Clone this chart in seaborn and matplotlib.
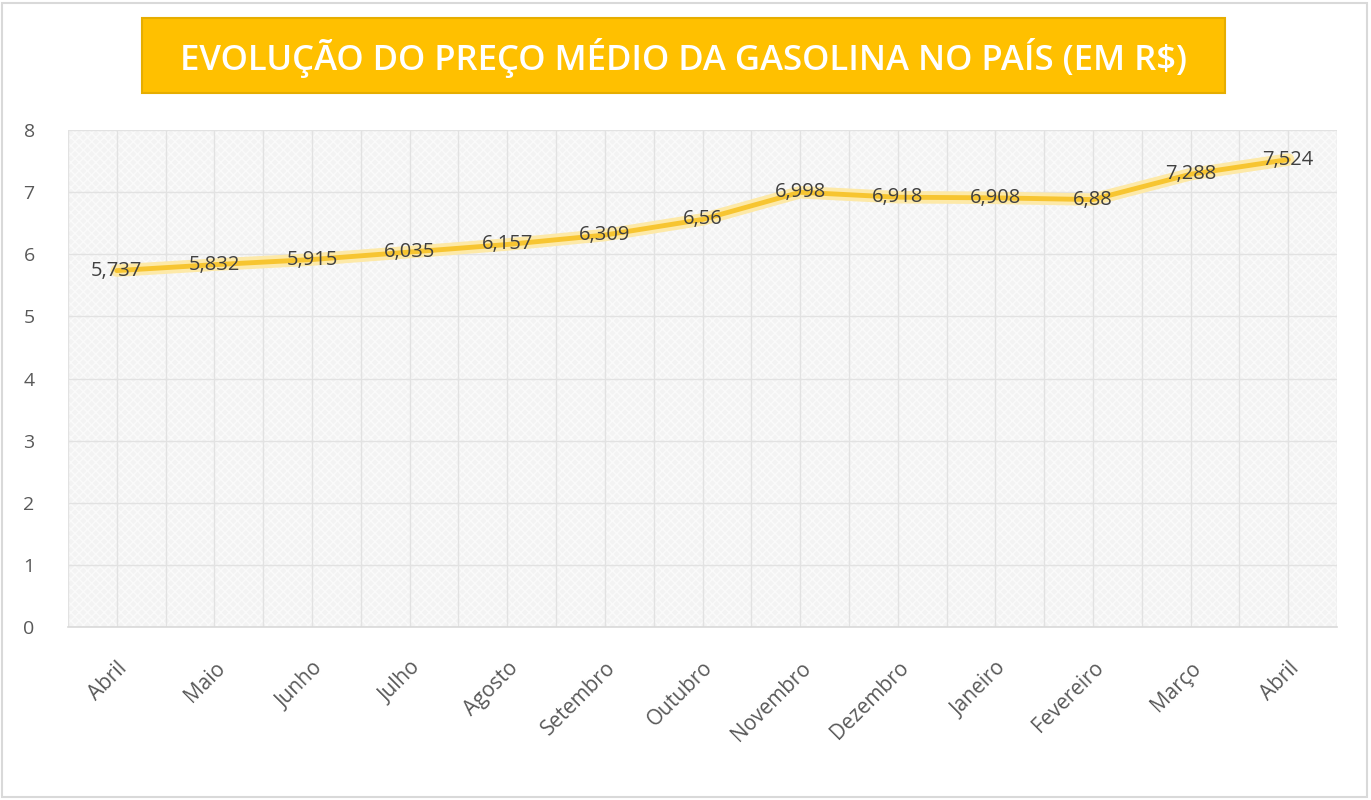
import matplotlib
matplotlib.use("Agg")
import matplotlib.pyplot as plt
from matplotlib.patches import Rectangle
import seaborn as sns
import pandas as pd

months = ["Abril", "Maio", "Junho", "Julho", "Agosto", "Setembro", "Outubro",
          "Novembro", "Dezembro", "Janeiro", "Fevereiro", "Março", "Abril"]
prices = [5.737, 5.832, 5.915, 6.035, 6.157, 6.309, 6.56,
          6.998, 6.918, 6.908, 6.88, 7.288, 7.524]
price_labels = ["5,737", "5,832", "5,915", "6,035", "6,157", "6,309", "6,56",
                "6,998", "6,918", "6,908", "6,88", "7,288", "7,524"]
y_ticks = [0, 1, 2, 3, 4, 5, 6, 7, 8]
title = "EVOLUÇÃO DO PREÇO MÉDIO DA GASOLINA NO PAÍS (EM R$)"

sns.set_theme(style="white")
plt.rcParams["font.family"] = ["Open Sans", "DejaVu Sans"]

df = pd.DataFrame({"pos": range(len(months)), "price": prices})

W, H = 1371, 800
fig = plt.figure(figsize=(W / 100, H / 100), dpi=100)
ax = fig.add_axes([68 / W, 1 - 627 / H, (1337 - 68) / W, (627 - 130) / H])

ax.set_facecolor("#f3f3f3")
ax.add_patch(Rectangle((0, 0), 1, 1, transform=ax.transAxes, facecolor="none",
                       edgecolor="#ffffff", hatch="xxxx", linewidth=0, alpha=0.6, zorder=0))

# gridlines
for k in range(0, 2 * len(months) + 1):
    ax.axvline(-0.5 + k * 0.5, color="#e2e2e2", linewidth=1, zorder=1)
for yv in y_ticks:
    ax.axhline(yv, color="#e2e2e2", linewidth=1, zorder=1)

# glow + line
sns.lineplot(data=df, x="pos", y="price", ax=ax, color="#fde9a8", linewidth=9,
             zorder=2, legend=False)
sns.lineplot(data=df, x="pos", y="price", ax=ax, color="#f7c531", linewidth=3.5,
             zorder=3, legend=False)

for i, (v, lab) in enumerate(zip(prices, price_labels)):
    ax.text(i, v, lab, ha="center", va="center", fontsize=14.5, color="#404040", zorder=4)

ax.set_xlim(-0.5, len(months) - 0.5)
ax.set_ylim(0, 8)
ax.set_yticks(y_ticks)
ax.set_yticklabels([str(t) for t in y_ticks], color="#595959", fontsize=14)
ax.set_xticks(range(len(months)))
ax.set_xticklabels(months, rotation=45, ha="right", rotation_mode="anchor",
                   color="#595959", fontsize=15)
ax.tick_params(axis="y", pad=24, length=0)
ax.tick_params(axis="x", pad=22, length=0)
ax.set_xlabel("")
ax.set_ylabel("")
for s in ["top", "right", "left"]:
    ax.spines[s].set_visible(False)
ax.spines["bottom"].set_color("#d9d9d9")
ax.spines["bottom"].set_linewidth(1.2)

# title box
fig.patches.append(Rectangle((142 / W, 1 - 93 / H), (1225 - 142) / W, (93 - 18) / H,
                             transform=fig.transFigure, facecolor="#ffc000",
                             edgecolor="#e6ad00", linewidth=1.5, zorder=5))
fig.text((142 + 1225) / 2 / W, 1 - 58 / H, title, ha="center", va="center",
         fontsize=25, fontweight="semibold", color="white", zorder=6)

# outer border
fig.patches.append(Rectangle((2 / W, 3 / H), (W - 6) / W, (H - 6) / H,
                             transform=fig.transFigure, facecolor="none",
                             edgecolor="#d9d9d9", linewidth=1.5, zorder=0))

fig.savefig("out.png", dpi=100)
